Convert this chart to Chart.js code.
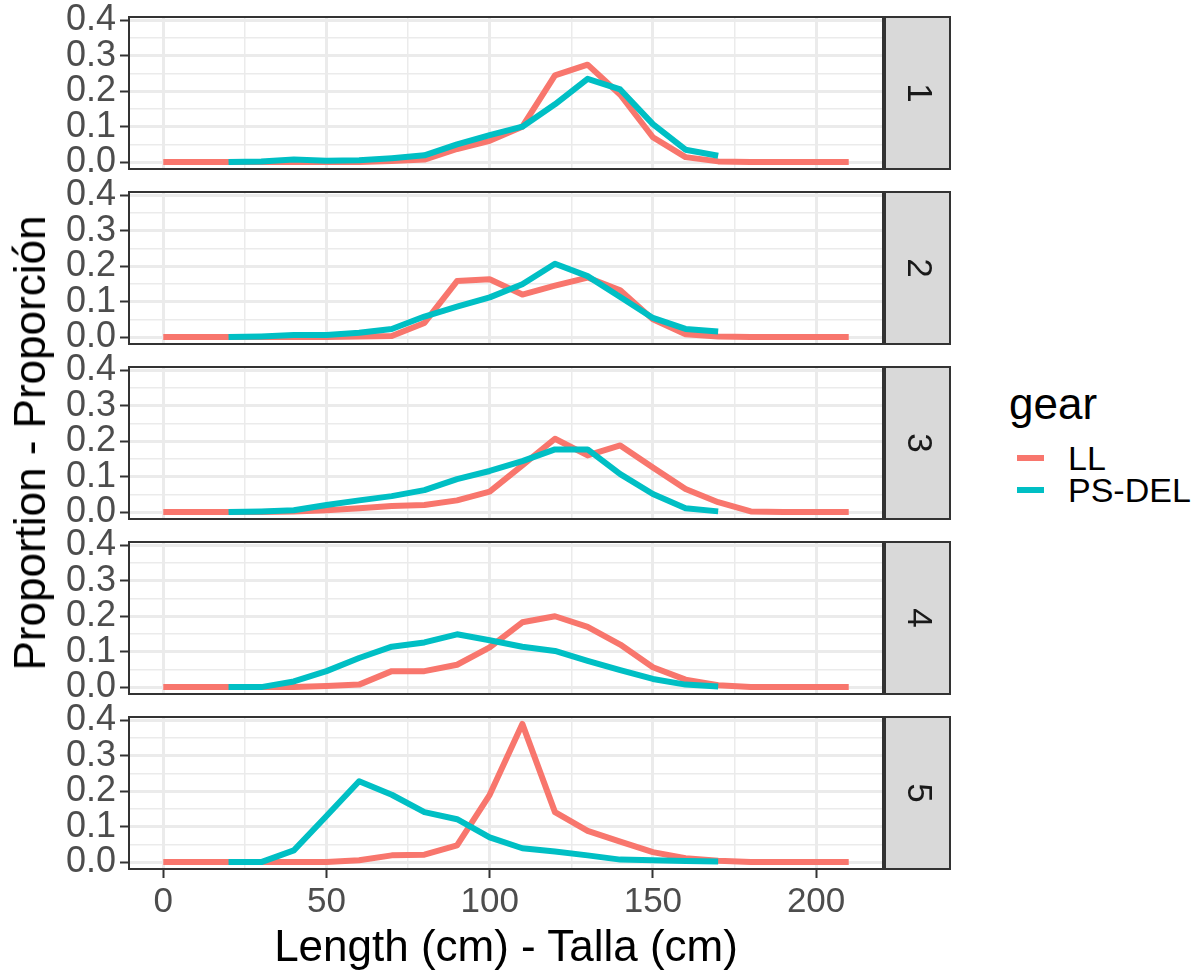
<!DOCTYPE html>
<html>
<head>
<meta charset="utf-8">
<script src="https://cdn.jsdelivr.net/npm/chart.js@4.4.1/dist/chart.umd.min.js"></script>
<style>
  body { margin: 0; background: #fff; width: 1199px; height: 976px; position: relative; overflow: hidden;
         font-family: "Liberation Sans", Arial, sans-serif; }
  canvas { position: absolute; left: 0; }
  .ytitle { position: absolute; left: 30px; top: 443px; transform: translate(-50%, -50%) rotate(-90deg);
            font-size: 44px; white-space: nowrap; color: #000; }
  .xtitle { position: absolute; left: 506px; top: 946px; transform: translate(-50%, -50%);
            font-size: 44px; white-space: nowrap; color: #000; }
  .lg-title { position: absolute; left: 1009px; top: 404px; transform: translateY(-50%); font-size: 44px; }
  .lg-item { position: absolute; left: 1068px; transform: translateY(-50%); font-size: 34px; white-space: nowrap; }
  .lg-key { position: absolute; left: 1017px; width: 27px; height: 6px; transform: translateY(-50%); }
</style>
</head>
<body>
<canvas id="p0" width="960" height="232" style="top:-23px"></canvas>
<canvas id="p1" width="960" height="232" style="top:152px"></canvas>
<canvas id="p2" width="960" height="232" style="top:327px"></canvas>
<canvas id="p3" width="960" height="232" style="top:502px"></canvas>
<canvas id="p4" width="960" height="262" style="top:677px"></canvas>

<div class="ytitle">Proportion - Proporción</div>
<div class="xtitle">Length (cm) - Talla (cm)</div>

<div class="lg-title">gear</div>
<div class="lg-key" style="top:458px;background:#F8766D"></div>
<div class="lg-item" style="top:458px">LL</div>
<div class="lg-key" style="top:490px;background:#00BFC4"></div>
<div class="lg-item" style="top:490px">PS-DEL</div>

<script>
// --- data ---
const facets = ["1", "2", "3", "4", "5"];
const lengthsLL = [0, 10, 20, 30, 40, 50, 60, 70, 80, 90, 100, 110, 120, 130, 140, 150, 160, 170, 180, 190, 200, 210];
const lengthsPS = [20, 30, 40, 50, 60, 70, 80, 90, 100, 110, 120, 130, 140, 150, 160, 170];

const ll1 = [0, 0, 0, 0, 0, 0, 0, 0.003, 0.007, 0.037, 0.06, 0.10, 0.245, 0.275, 0.19, 0.07, 0.014, 0.002, 0, 0, 0, 0];
const ll2 = [0, 0, 0, 0, 0, 0, 0.002, 0.003, 0.04, 0.158, 0.163, 0.12, 0.145, 0.168, 0.132, 0.05, 0.008, 0.002, 0, 0, 0, 0];
const ll3 = [0, 0, 0, 0, 0.002, 0.005, 0.011, 0.017, 0.02, 0.033, 0.058, 0.132, 0.207, 0.16, 0.188, 0.126, 0.065, 0.028, 0.002, 0, 0, 0];
const ll4 = [0, 0, 0, 0, 0, 0.003, 0.007, 0.045, 0.045, 0.063, 0.112, 0.183, 0.2, 0.17, 0.12, 0.056, 0.021, 0.005, 0, 0, 0, 0];
const ll5 = [0, 0, 0, 0, 0, 0, 0.005, 0.019, 0.021, 0.047, 0.19, 0.39, 0.141, 0.088, 0.058, 0.028, 0.011, 0.004, 0, 0, 0, 0];

const ps1 = [0, 0.002, 0.007, 0.004, 0.005, 0.011, 0.019, 0.05, 0.076, 0.10, 0.163, 0.235, 0.205, 0.107, 0.035, 0.018];
const ps2 = [0, 0.002, 0.006, 0.006, 0.012, 0.023, 0.058, 0.086, 0.112, 0.149, 0.207, 0.172, 0.113, 0.054, 0.023, 0.016];
const ps3 = [0, 0.002, 0.005, 0.02, 0.033, 0.045, 0.062, 0.093, 0.116, 0.144, 0.177, 0.177, 0.107, 0.051, 0.011, 0.002];
const ps4 = [0, 0, 0.016, 0.045, 0.082, 0.114, 0.126, 0.149, 0.132, 0.114, 0.102, 0.074, 0.048, 0.023, 0.007, 0.002];
const ps5 = [0, 0, 0.033, 0.13, 0.228, 0.19, 0.141, 0.121, 0.07, 0.039, 0.03, 0.019, 0.007, 0.005, 0.003, 0.002];

const xTicks = [0, 50, 100, 150, 200];
const xGrid = [0, 25, 50, 75, 100, 125, 150, 175, 200];
const yTicks = [0, 0.1, 0.2, 0.3, 0.4];
const yGrid = [0, 0.05, 0.1, 0.15, 0.2, 0.25, 0.3, 0.35, 0.4];

const llSeries = [ll1, ll2, ll3, ll4, ll5];
const psSeries = [ps1, ps2, ps3, ps4, ps5];

const colLL = "#F8766D";
const colPS = "#00BFC4";
const FAMILY = '"Liberation Sans", Arial, sans-serif';
Chart.defaults.font.family = FAMILY;

// ggplot-like 5% expansion around the shared data range
const allY = llSeries.flat().concat(psSeries.flat());
const yMaxData = Math.max(...allY);
const yLo = -0.05 * yMaxData, yHi = 1.05 * yMaxData;

const isMajor = (v, list) => list.some(t => Math.abs(t - v) < 1e-9);

// panel border + grey strip on the right, like facet_grid
const panelDeco = {
	id: "panelDeco",
	afterDraw(chart, args, opts) {
		const { ctx, chartArea: a } = chart;
		ctx.save();
		ctx.strokeStyle = "#333333";
		ctx.lineWidth = 2;
		ctx.strokeRect(a.left, a.top, a.right - a.left, a.bottom - a.top);
		const sx = a.right + 2, sw = 65, h = a.bottom - a.top;
		ctx.fillStyle = "#D9D9D9";
		ctx.fillRect(sx, a.top, sw, h);
		ctx.strokeRect(sx, a.top, sw, h);
		ctx.translate(sx + sw / 2, a.top + h / 2);
		ctx.rotate(Math.PI / 2);
		ctx.fillStyle = "#1A1A1A";
		ctx.font = "35px " + FAMILY;
		ctx.textAlign = "center";
		ctx.textBaseline = "middle";
		ctx.fillText(opts.label, 0, 0);
		ctx.restore();
	}
};

function makePanel(i) {
	const last = i === facets.length - 1;
	new Chart(document.getElementById("p" + i), {
		type: "line",
		data: {
			datasets: [
				{ label: "LL", data: lengthsLL.map((x, k) => ({ x, y: llSeries[i][k] })), borderColor: colLL,
				  borderWidth: 6, pointRadius: 0, tension: 0, borderCapStyle: "butt", borderJoinStyle: "round", order: 2 },
				{ label: "PS-DEL", data: lengthsPS.map((x, k) => ({ x, y: psSeries[i][k] })), borderColor: colPS,
				  borderWidth: 6, pointRadius: 0, tension: 0, borderCapStyle: "butt", borderJoinStyle: "round", order: 1 }
			]
		},
		options: {
			responsive: false, animation: false, events: [],
			// chart area: x 129..883, 152px tall, 40px from the canvas top
			layout: { padding: { top: 40, right: 77, bottom: last ? 20 : 40, left: 0 } },
			plugins: { legend: { display: false }, tooltip: { enabled: false }, panelDeco: { label: facets[i] } },
			scales: {
				x: {
					type: "linear", min: -10.5, max: 220.5,
					afterBuildTicks: s => { s.ticks = xGrid.map(v => ({ value: v })); },
					afterFit: s => { s.height = last ? 50 : 0; },
					border: { display: false },
					grid: {
						color: "#EBEBEB",
						lineWidth: c => isMajor(c.tick.value, xTicks) ? 3 : 1.5,
						drawTicks: last, tickLength: 9, tickWidth: 2,
						tickColor: c => isMajor(c.tick.value, xTicks) ? "#333333" : "rgba(0,0,0,0)"
					},
					ticks: {
						display: last, autoSkip: false, maxRotation: 0, padding: 3,
						color: "#4D4D4D", font: { size: 35 },
						callback: v => isMajor(v, xTicks) ? String(v) : ""
					}
				},
				y: {
					type: "linear", min: yLo, max: yHi,
					afterBuildTicks: s => { s.ticks = yGrid.map(v => ({ value: v })); },
					afterFit: s => { s.width = 129; },
					border: { display: false },
					grid: {
						color: "#EBEBEB",
						lineWidth: c => isMajor(c.tick.value, yTicks) ? 3 : 1.5,
						tickLength: 9, tickWidth: 2,
						tickColor: c => isMajor(c.tick.value, yTicks) ? "#333333" : "rgba(0,0,0,0)"
					},
					ticks: {
						autoSkip: false, padding: 4, color: "#4D4D4D", font: { size: 36 },
						callback: v => isMajor(v, yTicks) ? v.toFixed(1) : ""
					}
				}
			}
		},
		plugins: [panelDeco]
	});
}

facets.forEach((f, i) => makePanel(i));
</script>
</body>
</html>
